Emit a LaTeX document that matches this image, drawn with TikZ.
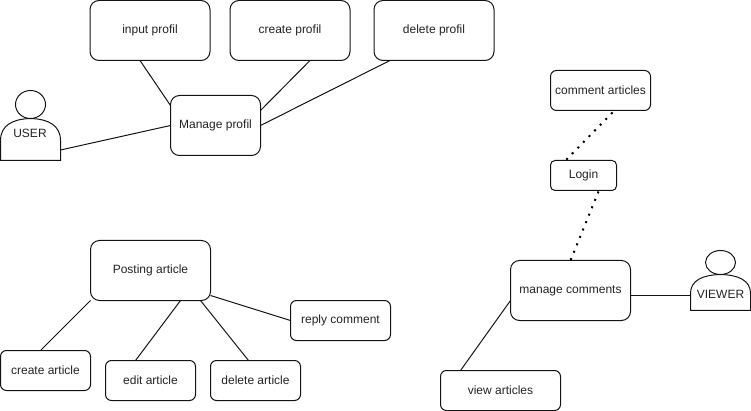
\documentclass[tikz,border=0pt]{standalone}
\usepackage{fontspec}
\setmainfont{Liberation Sans}
\usetikzlibrary{calc}
\definecolor{ink}{RGB}{20,20,20}
\definecolor{labelink}{RGB}{35,35,35}
\tikzset{
  x=1pt,y=-1pt,
  boxnode/.style={draw=ink,line width=1pt,inner sep=0pt,outer sep=0pt,text=labelink,font=\fontsize{12}{14}\selectfont},
  bigbox/.style={boxnode,rounded corners=9pt,minimum width=120pt,minimum height=60pt},
  midbox/.style={boxnode,rounded corners=9pt,minimum width=90pt,minimum height=60pt},
  smallbox/.style={boxnode,rounded corners=6pt,minimum width=#1,minimum height=40pt},
  link/.style={draw=ink,line width=1pt},
  dotlink/.style={draw=black,line width=2pt,dash pattern=on 2pt off 6pt},
  actorline/.style={draw=ink,line width=1pt},
  actorlabel/.style={text=labelink,inner sep=0pt,font=\fontsize{12}{14}\selectfont},
  pics/actor/.style={code={
    \draw[actorline] (30,14) ellipse [x radius=15,y radius=14];
    \draw[actorline] (0,70) -- (0,50) .. controls (0,35) and (12,28.5) .. (30,28)
       .. controls (48,28.5) and (60,35) .. (60,50) -- (60,70) -- cycle;
  }}
}
\begin{document}
\begin{tikzpicture}
\useasboundingbox (0,0) rectangle (751,411);
% top group
\node[bigbox] (inputp) at (150,30.5) {input profil};
\node[bigbox] (createp) at (290,30.5) {create profil};
\node[bigbox] (deletep) at (434,30.5) {delete profil};
\node[midbox] (managep) at (215.5,125.5) {Manage profil};
\pic at (0.5,90.5) {actor};
\node[actorlabel] (user) at (30,133) {USER};
\coordinate (userport) at (60.5,150);
% right group
\node[smallbox=100pt] (commenta) at (600.5,90.5) {comment articles};
\node[boxnode,rounded corners=4.5pt,minimum width=66pt,minimum height=30pt] (login) at (583.5,175.5) {Login};
\node[bigbox] (managec) at (570.5,290.5) {manage comments};
\pic[yscale=0.857] at (690.5,250.5) {actor};
\node[actorlabel] (viewer) at (720.5,294) {VIEWER};
\coordinate (viewerport) at (690.5,295.5);
\node[smallbox=120pt] (viewa) at (500.5,390.5) {view articles};
% lower left group
\node[bigbox] (posting) at (150.5,270.5) {Posting article};
\node[smallbox=90pt] (createa) at (45.5,370.5) {create article};
\node[smallbox=90pt] (edita) at (150.5,380.5) {edit article};
\node[smallbox=90pt] (deletea) at (255.5,380.5) {delete article};
\node[smallbox=100pt] (replyc) at (340.5,320.5) {reply comment};
% connectors
\draw[link] ($(inputp.south west)+(50,0)$) -- ($(managep.north west)+(0,10)$);
\draw[link] ($(createp.south west)+(80,0)$) -- ($(managep.north east)+(0,15)$);
\draw[link] ($(deletep.south west)+(16,0)$) -- ($(managep.north east)+(0,30)$);
\draw[link] (userport) -- (managep.west);
\draw[dotlink] ($(commenta.south west)+(62,2)$) -- ($(login.north west)+(15,0)$);
\draw[dotlink] ($(login.south west)+(48,1)$) -- ($(managec.north west)+(60,0)$);
\draw[link] (managec.east |- viewerport) -- (viewerport);
\draw[link] ($(managec.south west)+(0,-20)$) -- ($(viewa.north west)+(20,0)$);
\draw[link] (posting.south west) -- ($(createa.north west)+(40,0)$);
\draw[link] ($(posting.south west)+(90,0)$) -- ($(edita.north west)+(30,0)$);
\draw[link] ($(posting.south west)+(110,0)$) -- ($(deletea.north west)+(38,0)$);
\draw[link] ($(posting.south east)+(0,-5)$) -- (replyc.west);
\end{tikzpicture}
\end{document}
